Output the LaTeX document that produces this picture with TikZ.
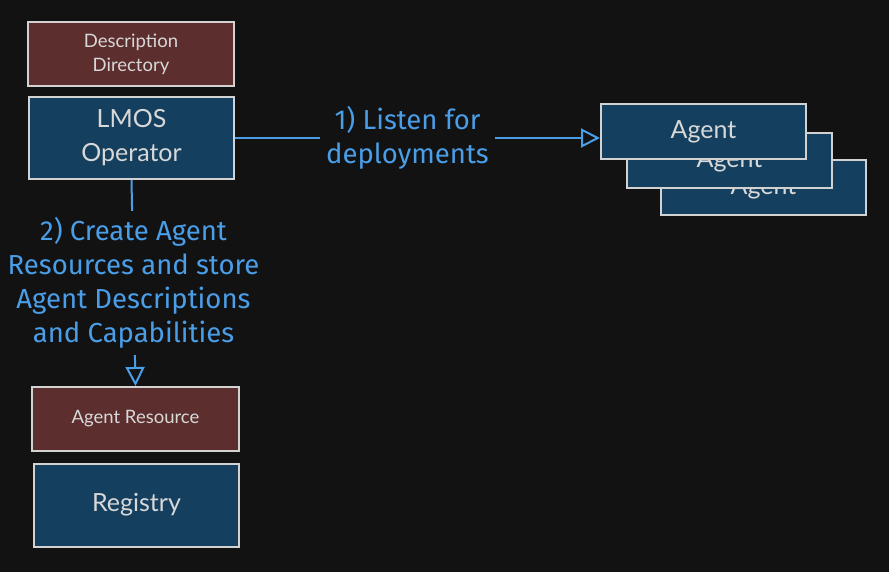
\documentclass[tikz,border=0pt]{standalone}
\usepackage{fontspec}
\setmainfont{Lato}
\newfontfamily\handfont{Fira Sans}
\usetikzlibrary{arrows.meta}
\definecolor{bgcol}{HTML}{121212}
\definecolor{boxblue}{HTML}{153F5E}
\definecolor{boxred}{HTML}{5C2E2E}
\definecolor{boxline}{HTML}{D2D2D2}
\definecolor{boxtext}{HTML}{D8D8D8}
\definecolor{linkblue}{HTML}{4A9EE8}
\tikzset{
	basebox/.style={draw=boxline, line width=2pt, text=boxtext, align=center, inner sep=0pt},
	bluebox/.style={basebox, fill=boxblue, font=\fontsize{25}{34}\selectfont},
	redbox/.style={basebox, fill=boxred, font=\fontsize{18.5}{24}\selectfont},
	link/.style={draw=linkblue, line width=2pt, -{Triangle[open, length=19pt, width=19pt]}},
	linklabel/.style={fill=bgcol, text=linkblue, align=center, inner sep=6pt,
		font=\handfont\fontsize{27.5}{34}\selectfont}
}
\begin{document}
\begin{tikzpicture}[x=1pt, y=-1pt]
		%%%%% START %%%%%
		
		\fill[bgcol] (0, 0) rectangle (889, 572);
		\useasboundingbox (0, 0) rectangle (889, 572);
		
		\node[redbox, minimum width=206pt, minimum height=64pt] (dir) at (131, 54) {Description\\Directory};
		\node[bluebox, minimum width=205pt, minimum height=82pt] (op) at (131.5, 138) {LMOS\\Operator};
		
		\node[bluebox, minimum width=205pt, minimum height=55pt] (ag3) at (763.5, 188) {Agent};
		\node[bluebox, minimum width=205pt, minimum height=55pt] (ag2) at (729.5, 161) {Agent};
		\node[bluebox, minimum width=205pt, minimum height=55pt] (ag1) at (703.5, 132) {Agent};
		
		\node[redbox, minimum width=207pt, minimum height=64pt] (ares) at (135.5, 419) {Agent Resource};
		\node[bluebox, minimum width=205pt, minimum height=83pt] (reg) at (136.5, 505) {Registry};
		
		\draw[link] (op.east) -- node[linklabel, xshift=-10pt] {1) Listen for\\deployments} (op.east -| ag1.west);
		\draw[link] (op.south) -- node[linklabel] {2) Create Agent\\Resources and store\\Agent Descriptions\\and Capabilities} (ares.north);
		
		%%%%% END %%%%%
	\end{tikzpicture}
\end{document}
